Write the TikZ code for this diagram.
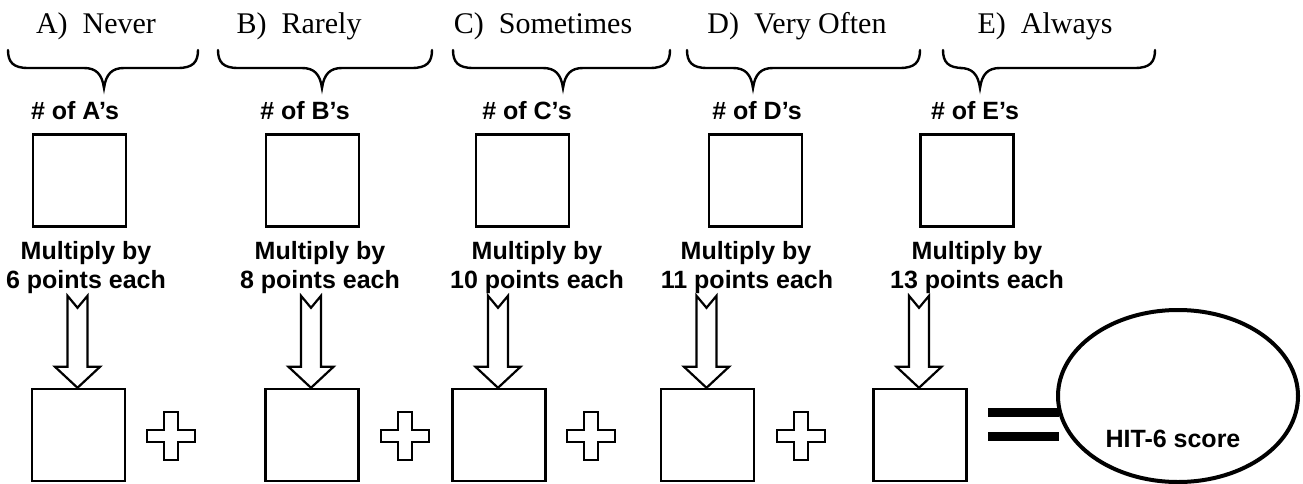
\documentclass[tikz,border=0pt]{standalone}
\usepackage{fontspec}
\setmainfont{Liberation Serif}
\newfontfamily\labelfont{Liberation Sans}
\usetikzlibrary{shapes.geometric}

% curly brace opening upwards: left end, tip, right end
\newcommand\topbrace[3]{%
  \draw[bracestyle] (#1,50) .. controls (#1,62) and (#1+5,68) .. (#1+20,68)
    -- (#2-20,68) .. controls (#2-8,68) and (#2-2,74) .. (#2,88)
    .. controls (#2+2,74) and (#2+8,68) .. (#2+20,68)
    -- (#3-20,68) .. controls (#3-5,68) and (#3,62) .. (#3,50);}

\begin{document}
\begin{tikzpicture}[x=1pt,y=-1pt,
  head/.style={font=\fontsize{30}{32}\selectfont, anchor=base},
  lab/.style={font=\labelfont\bfseries\fontsize{25}{30}\selectfont, anchor=base},
  tally/.style={draw, line width=2.4pt, minimum width=93pt, minimum height=92pt, inner sep=0pt},
  bracestyle/.style={line width=2.4pt, line cap=round},
  blockarrow/.pic={\draw[line width=2.2pt, line join=miter, fill=white]
      (0,0) -- (-22.5,-21) -- (-10,-21) -- (-10,-92) -- (0,-80)
      -- (10,-92) -- (10,-21) -- (22.5,-21) -- cycle;},
  plussign/.pic={\draw[line width=2.2pt, fill=white]
      (-7,-24) -- (7,-24) -- (7,-6) -- (24,-6) -- (24,6) -- (7,6)
      -- (7,24) -- (-7,24) -- (-7,6) -- (-24,6) -- (-24,-6) -- (-7,-6) -- cycle;},
  bar/.style={fill=black, minimum width=71pt, minimum height=9pt, inner sep=0pt}
]
\useasboundingbox (0,0) rectangle (1303,484);

% column headings
\node[head] (hA) at (96,34)  {A)\ \ Never};
\node[head] (hB) at (299,34) {B)\ \ Rarely};
\node[head] (hC) at (543,34) {C)\ \ Sometimes};
\node[head] (hD) at (797,34) {D)\ \ Very Often};
\node[head] (hE) at (1045,34) {E)\ \ Always};

% braces
\topbrace{8}{104}{198}
\topbrace{218}{322}{432}
\topbrace{453}{563}{670}
\topbrace{687}{753}{920}
\topbrace{943}{980}{1155}

% counts
\node[lab] (cA) at (75,120)  {\# of A’s};
\node[lab] (cB) at (305,120) {\# of B’s};
\node[lab] (cC) at (527,120) {\# of C’s};
\node[lab] (cD) at (757,120) {\# of D’s};
\node[lab] (cE) at (975,120) {\# of E’s};

\node[tally] (tA) at (79.5,180.5) {};
\node[tally] (tB) at (312.5,180.5) {};
\node[tally] (tC) at (522.5,180.5) {};
\node[tally] (tD) at (755.5,180.5) {};
\node[tally] (tE) at (967,180.5) {};

% multipliers
\node[lab] (mA1) at (86,259)  {Multiply by};
\node[lab] (mA2) at (86,288)  {6 points each};
\node[lab] (mB1) at (320,259) {Multiply by};
\node[lab] (mB2) at (320,288) {8 points each};
\node[lab] (mC1) at (537,259) {Multiply by};
\node[lab] (mC2) at (537,288) {10 points each};
\node[lab] (mD1) at (746,259) {Multiply by};
\node[lab] (mD2) at (747,288) {11 points each};
\node[lab] (mE1) at (977,259) {Multiply by};
\node[lab] (mE2) at (977,288) {13 points each};

% weighted boxes
\node[tally] (wA) at (78.5,435) {};
\node[tally] (wB) at (312,435) {};
\node[tally] (wC) at (499,435) {};
\node[tally] (wD) at (707.5,435) {};
\node[tally] (wE) at (920,435) {};

% block arrows into weighted boxes
\foreach \w in {wA,wB,wC,wD,wE}
  \pic at ([xshift=-1pt]\w.north) {blockarrow};

% plus signs
\pic at (171,436) {plussign};
\pic at (405,436) {plussign};
\pic at (591,436) {plussign};
\pic at (801,436) {plussign};

% result
\node[draw, ellipse, line width=4pt, minimum width=240pt, minimum height=172pt,
      inner sep=0pt] (score) at (1178,396) {};
\node[lab] (scoretext) at (1173,447) {HIT-6 score};
\node[bar] (eq1) at (1023.5,412.5) {};
\node[bar] (eq2) at (1023.5,436.5) {};
\end{tikzpicture}
\end{document}
